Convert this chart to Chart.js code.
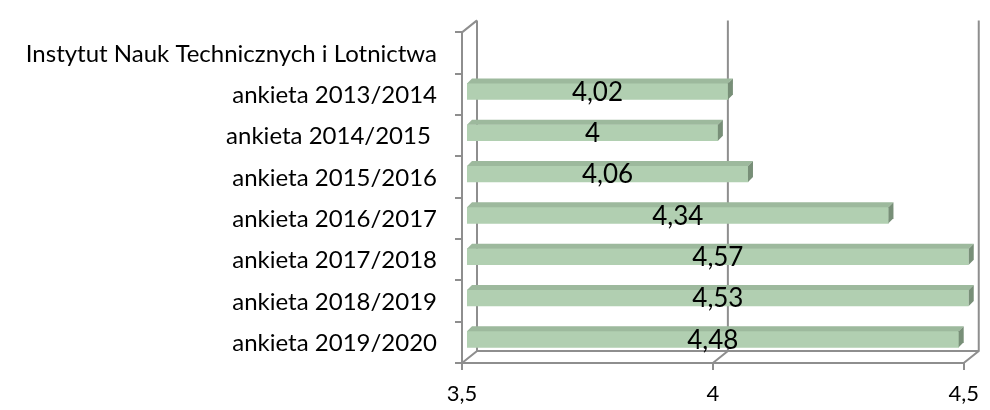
<!DOCTYPE html>
<html lang="pl">
<head>
<meta charset="UTF-8" />
<title>Instytut Nauk Technicznych i Lotnictwa</title>
<script src="https://cdn.jsdelivr.net/npm/chart.js"></script>
<style>
    html, body { margin: 0; padding: 0; background: #fff; }
    .chart-container { width: 990px; height: 410px; position: relative; }
</style>
</head>
<body>
<div class="chart-container">
    <canvas id="ankietyChart"></canvas>
</div>
<script>
const categories = [
    'Instytut Nauk Technicznych i Lotnictwa',
    'ankieta 2013/2014',
    'ankieta 2014/2015 ',
    'ankieta 2015/2016',
    'ankieta 2016/2017',
    'ankieta 2017/2018',
    'ankieta 2018/2019',
    'ankieta 2019/2020'
];
const scores = [null, 4.02, 4, 4.06, 4.34, 4.57, 4.53, 4.48];
const xTicks = [3.5, 4, 4.5];

const gray = '#8e8e8e';
const fontFamily = 'Lato, "Open Sans", sans-serif';
const fmt = v => String(v).replace('.', ',');

// pseudo 3D: back wall and bar depth
const wall = { dx: 15, dy: -12 };
const barShift = { dx: 5, dy: -3 };
const barDepth = 5;

const plot3d = {
    id: 'plot3d',
    beforeDatasetsDraw(chart) {
        const { ctx, chartArea: a, scales: { x } } = chart;
        ctx.save();
        ctx.strokeStyle = gray;
        ctx.lineWidth = 2;
        ctx.beginPath();
        ctx.moveTo(a.left + wall.dx, a.bottom + wall.dy);
        ctx.lineTo(a.right + wall.dx, a.bottom + wall.dy);
        xTicks.forEach(v => {
            const px = x.getPixelForValue(v);
            ctx.moveTo(px, a.bottom);
            ctx.lineTo(px + wall.dx, a.bottom + wall.dy);
            ctx.lineTo(px + wall.dx, a.top + wall.dy);
        });
        ctx.moveTo(a.left, a.top);
        ctx.lineTo(a.left + wall.dx, a.top + wall.dy);
        ctx.stroke();
        ctx.restore();

        ctx.save();
        ctx.translate(barShift.dx, barShift.dy);
    },
    afterDatasetsDraw(chart) {
        const { ctx, chartArea: a } = chart;
        const meta = chart.getDatasetMeta(0);
        const labels = [];
        meta.data.forEach((bar, i) => {
            if (scores[i] == null) return;
            const p = bar.getProps(['x', 'y', 'base', 'height'], true);
            // bars start at 0, so clamp to the visible area
            const start = Math.max(p.base, a.left);
            const end = Math.min(p.x, a.right);
            const top = p.y - p.height / 2;
            const bottom = p.y + p.height / 2;
            // top face
            ctx.fillStyle = '#9db99d';
            ctx.beginPath();
            ctx.moveTo(start, top);
            ctx.lineTo(end, top);
            ctx.lineTo(end + barDepth, top - barDepth);
            ctx.lineTo(start + barDepth, top - barDepth);
            ctx.closePath();
            ctx.fill();
            // side face
            ctx.fillStyle = '#788f78';
            ctx.beginPath();
            ctx.moveTo(end, top);
            ctx.lineTo(end + barDepth, top - barDepth);
            ctx.lineTo(end + barDepth, bottom - barDepth);
            ctx.lineTo(end, bottom);
            ctx.closePath();
            ctx.fill();
            labels.push({ x: (start + end) / 2 + barShift.dx, y: p.y + barShift.dy, text: fmt(scores[i]) });
        });
        ctx.restore();

        ctx.save();
        ctx.fillStyle = '#000';
        ctx.font = '26px ' + fontFamily;
        ctx.textAlign = 'center';
        ctx.textBaseline = 'middle';
        labels.forEach(l => ctx.fillText(l.text, l.x, l.y + 1));
        ctx.restore();
    }
};

new Chart(document.getElementById('ankietyChart'), {
    type: 'bar',
    data: {
        labels: categories,
        datasets: [{
            data: scores,
            backgroundColor: '#b1cfb1',
            barThickness: 16
        }]
    },
    options: {
        indexAxis: 'y',
        responsive: true,
        maintainAspectRatio: false,
        animation: false,
        layout: { padding: { left: 0, right: 20, top: 23, bottom: 0 } },
        plugins: {
            legend: { display: false },
            tooltip: { enabled: false }
        },
        scales: {
            x: {
                min: 3.5,
                max: 4.5,
                afterFit: axis => { axis.height = 47; },
                afterBuildTicks: axis => { axis.ticks = xTicks.map(v => ({ value: v })); },
                ticks: {
                    callback: v => fmt(v),
                    color: '#000',
                    padding: 11,
                    font: { family: fontFamily, size: 22 }
                },
                grid: { drawOnChartArea: false, drawTicks: true, tickLength: 7, color: gray, lineWidth: 2 },
                border: { display: true, color: gray, width: 2 }
            },
            y: {
                afterFit: axis => { axis.width = 462; },
                ticks: {
                    autoSkip: false,
                    color: '#000',
                    padding: 18,
                    labelOffset: 1,
                    font: { family: fontFamily, size: 24 }
                },
                grid: { drawOnChartArea: false, drawTicks: true, tickLength: 7, color: gray, lineWidth: 2, offset: true },
                border: { display: true, color: gray, width: 2 }
            }
        }
    },
    plugins: [plot3d]
});
</script>
</body>
</html>
